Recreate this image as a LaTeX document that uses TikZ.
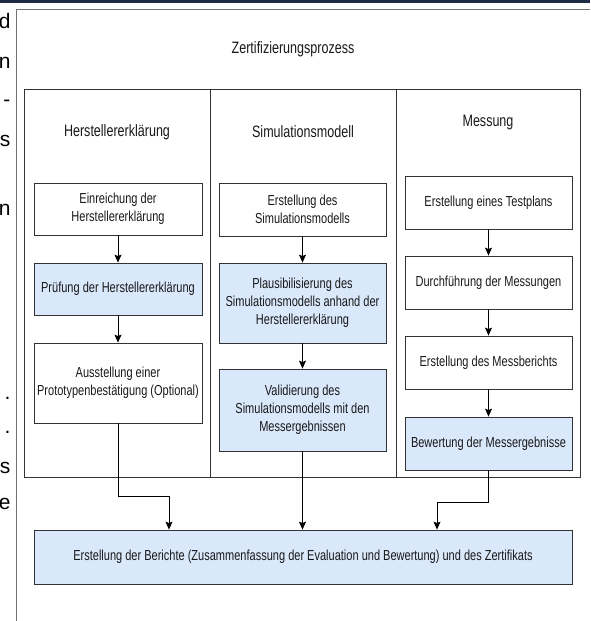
\documentclass[tikz,border=0pt]{standalone}
\usepackage{fontspec}
\setmainfont{Liberation Sans}[FakeStretch=0.76]
\newfontfamily\seitenfont{Liberation Sans}
\usetikzlibrary{arrows.meta}

\definecolor{blaufeld}{HTML}{DAE8FC}
\definecolor{kante}{HTML}{333333}
\definecolor{balken}{HTML}{1F2A44}

\tikzset{
  kasten/.style={draw=kante, line width=0.8pt, align=center, inner sep=0pt,
    minimum width=167pt, text=black!90, font=\fontsize{14.5}{18}\selectfont},
  blau/.style={kasten, fill=blaufeld},
  kopf/.style={text=black!90, font=\fontsize{16.5}{19}\selectfont},
  pfeil/.style={draw=black, line width=0.8pt, -{Stealth[length=8pt,width=7pt,inset=1.5pt]}},
  rand/.style={anchor=east, text=black, font=\seitenfont\fontsize{21}{24}\selectfont}
}

\begin{document}
\begin{tikzpicture}[x=1pt,y=-1pt]
        \useasboundingbox (0,0) rectangle (590,621);
        \fill[balken] (0,0) rectangle (590,2.5);
        \draw[black!55, line width=0.8pt] (16,621) -- (16,9) -- (590,9);

        %textreste links
        \node[rand] (f1) at (14,21) {d};
        \node[rand] (f2) at (14,63) {n};
        \node[rand] (f3) at (14,103) {-};
        \node[rand] (f4) at (14,141) {s};
        \node[rand] (f5) at (14,210) {n};
        \node[rand] (f6) at (14,398) {.};
        \node[rand] (f7) at (14,432) {.};
        \node[rand] (f8) at (14,468) {s};
        \node[rand] (f9) at (14,504) {e};

        \node[kopf] (titel) at (293,49) {Zertifizierungsprozess};

        %spalten
        \draw[kante, line width=0.8pt] (24,89) rectangle (580,477);
        \draw[kante, line width=0.8pt] (210,89) -- (210,477);
        \draw[kante, line width=0.8pt] (396,89) -- (396,477);

        \node[kopf] (h1) at (117,132) {Herstellererklärung};
        \node[kopf] (h2) at (303,132) {Simulationsmodell};
        \node[kopf] (h3) at (488,123) {Messung};

        %herstellererklaerung
        \node[kasten, minimum width=168pt, minimum height=52pt] (e1) at (118,209) {Einreichung der\\Herstellererklärung};
        \node[blau, minimum width=168pt, minimum height=52pt] (e2) at (118,289) {Prüfung der Herstellererklärung};
        \node[kasten, minimum width=168pt, minimum height=80pt] (e3) at (118,383) {Ausstellung einer\\Prototypenbestätigung (Optional)};

        %simulationsmodell
        \node[kasten, minimum height=53pt] (s1) at (302.5,209.5) {Erstellung des\\Simulationsmodells};
        \node[blau, minimum height=80pt] (s2) at (302.5,303) {Plausibilisierung des\\Simulationsmodells anhand der\\Herstellererklärung};
        \node[blau, minimum height=82pt] (s3) at (302.5,410) {Validierung des\\Simulationsmodells mit den\\Messergebnissen};

        %messung
        \node[kasten, minimum height=53pt] (m1) at (488.5,202.5) {Erstellung eines Testplans};
        \node[kasten, minimum height=53pt] (m2) at (488.5,282.5) {Durchführung der Messungen};
        \node[kasten, minimum height=53pt] (m3) at (488.5,362.5) {Erstellung des Messberichts};
        \node[blau, minimum height=53pt] (m4) at (488.5,443.5) {Bewertung der Messergebnisse};

        \node[blau, minimum width=538pt, minimum height=54pt] (zb) at (303,557) {Erstellung der Berichte (Zusammenfassung der Evaluation und Bewertung) und des Zertifikats};

        \draw[pfeil] (e1) -- (e2);
        \draw[pfeil] (e2) -- (e3);
        \draw[pfeil] (s1) -- (s2);
        \draw[pfeil] (s2) -- (s3);
        \draw[pfeil] (m1) -- (m2);
        \draw[pfeil] (m2) -- (m3);
        \draw[pfeil] (m3) -- (m4);

        \coordinate (k1) at (169,496);
        \coordinate (k3) at (437,502);
        \draw[pfeil] (e3.south) |- (k1) -- (k1 |- zb.north);
        \draw[pfeil] (s3.south) -- (s3.south |- zb.north);
        \draw[pfeil] (m4.south) |- (k3) -- (k3 |- zb.north);
\end{tikzpicture}
\end{document}
